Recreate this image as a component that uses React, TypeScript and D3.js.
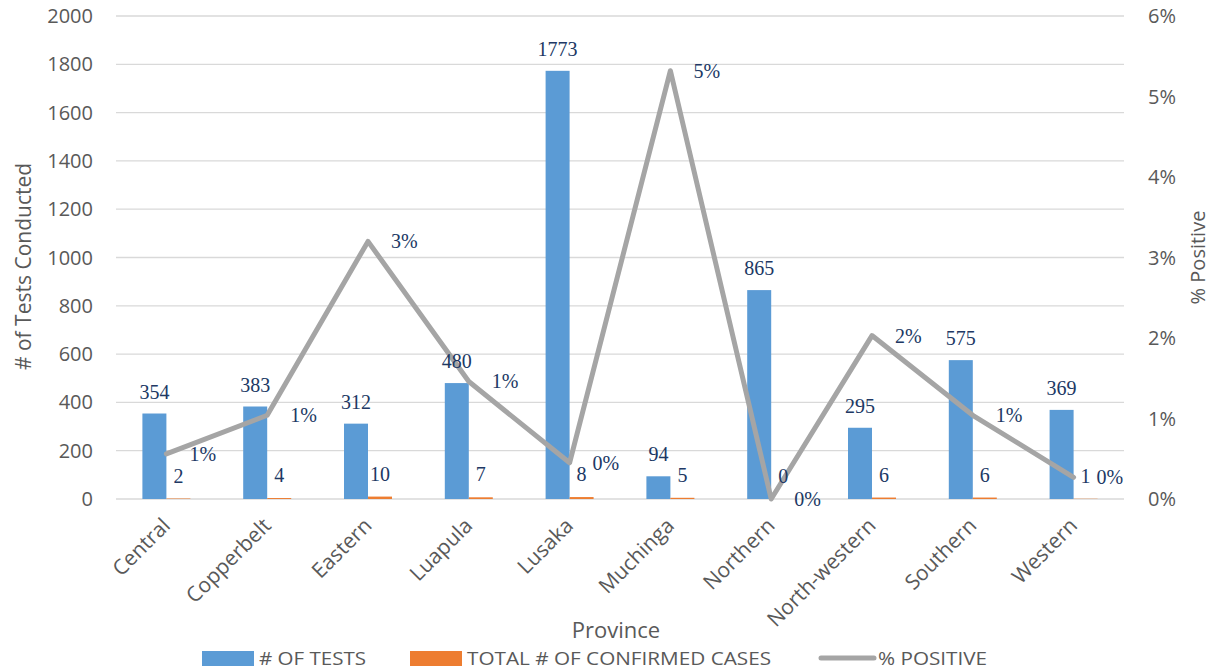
import * as d3 from "d3";

const provinces = [
  "Central",
  "Copperbelt",
  "Eastern",
  "Luapula",
  "Lusaka",
  "Muchinga",
  "Northern",
  "North-western",
  "Southern",
  "Western",
];
const tests = [354, 383, 312, 480, 1773, 94, 865, 295, 575, 369];
const confirmed = [2, 4, 10, 7, 8, 5, 0, 6, 6, 1];
// % positive
const pctPositive = [0.0056, 0.0104, 0.032, 0.0146, 0.0045, 0.0532, 0, 0.0203, 0.0104, 0.0027];
const leftTicks = [0, 200, 400, 600, 800, 1000, 1200, 1400, 1600, 1800, 2000];
const rightTicks = [0, 0.01, 0.02, 0.03, 0.04, 0.05, 0.06];

const colors = { tests: "#5B9BD5", cases: "#ED7D31", pct: "#A5A5A5" };
const sans = "'Open Sans', 'Noto Sans', sans-serif";
const serif = "'Liberation Serif', 'DejaVu Serif', serif";

export default function App() {
  const width = 1212;
  const height = 672;
  const margin = { top: 16, right: 88, bottom: 173, left: 116 };
  const innerWidth = width - margin.left - margin.right;
  const innerHeight = height - margin.top - margin.bottom;

  const x = d3.scaleBand().domain(provinces).range([0, innerWidth]);
  const yLeft = d3.scaleLinear().domain([0, 2000]).range([innerHeight, 0]);
  const yRight = d3.scaleLinear().domain([0, 0.06]).range([innerHeight, 0]);
  const barW = 24;
  const cx = (p: string) => (x(p) ?? 0) + x.bandwidth() / 2;

  const line = d3
    .line<number>()
    .x((_, i) => cx(provinces[i]))
    .y((d) => yRight(d));

  const fmtPct = d3.format(".0%");
  const labelColor = "#203864";

  const legend = [
    { key: "tests", label: "# OF TESTS", x: 202, len: 107 },
    { key: "cases", label: "TOTAL # OF CONFIRMED CASES", x: 410, len: 304 },
    { key: "pct", label: "% POSITIVE", x: 821, len: 109 },
  ];

  return (
    <svg
      width={width}
      height={height}
      style={{ position: "absolute", left: 0, top: 0, background: "#fff" }}
    >
      <g transform={`translate(${margin.left},${margin.top})`}>
        {leftTicks.map((t) => (
          <g key={`l-${t}`} transform={`translate(0,${yLeft(t)})`}>
            <line x1={0} x2={innerWidth} stroke="#D9D9D9" strokeWidth={1.3} />
            <text x={-23} y={7} textAnchor="end" fontFamily={sans} fontSize={20} fill="#595959">
              {t}
            </text>
          </g>
        ))}
        {rightTicks.map((t) => (
          <text
            key={`r-${t}`}
            x={innerWidth + 24}
            y={yRight(t) + 7}
            textAnchor="start"
            fontFamily={sans}
            fontSize={20}
            fill="#595959"
          >
            {fmtPct(t)}
          </text>
        ))}

        {provinces.map((p, i) => (
          <g key={p}>
            <rect
              x={cx(p) - barW}
              y={yLeft(tests[i])}
              width={barW}
              height={innerHeight - yLeft(tests[i])}
              fill={colors.tests}
            />
            <rect
              x={cx(p)}
              y={yLeft(confirmed[i])}
              width={barW}
              height={innerHeight - yLeft(confirmed[i])}
              fill={colors.cases}
            />
          </g>
        ))}

        <path
          d={line(pctPositive) ?? ""}
          fill="none"
          stroke={colors.pct}
          strokeWidth={5}
          strokeLinejoin="round"
          strokeLinecap="round"
        />

        {provinces.map((p, i) => (
          <g key={`lab-${p}`} fontFamily={serif} fontSize={20} fill={labelColor}>
            <text x={cx(p) - barW / 2} y={yLeft(tests[i]) - 15} textAnchor="middle">
              {tests[i]}
            </text>
            <text x={cx(p) + barW / 2} y={yLeft(confirmed[i]) - 16} textAnchor="middle">
              {confirmed[i]}
            </text>
            <text x={cx(p) + 23} y={yRight(pctPositive[i]) + 7} textAnchor="start">
              {fmtPct(pctPositive[i])}
            </text>
          </g>
        ))}

        {provinces.map((p) => (
          <text
            key={`x-${p}`}
            transform={`translate(${cx(p) + 5},${innerHeight + 28}) rotate(-45)`}
            textAnchor="end"
            fontFamily={sans}
            fontSize={21}
            fill="#595959"
          >
            {p}
          </text>
        ))}

        <text
          transform={`translate(${-85},${innerHeight / 2 + 9}) rotate(-90)`}
          textAnchor="middle"
          fontFamily={sans}
          fontSize={21}
          fill="#595959"
        >
          # of Tests Conducted
        </text>
        <text
          transform={`translate(${innerWidth + 81},${innerHeight / 2}) rotate(-90)`}
          textAnchor="middle"
          fontFamily={sans}
          fontSize={20}
          fill="#595959"
        >
          % Positive
        </text>
        <text
          x={innerWidth / 2 - 4}
          y={innerHeight + 139}
          textAnchor="middle"
          fontFamily={sans}
          fontSize={22}
          fill="#595959"
        >
          Province
        </text>
      </g>

      <g fontFamily={sans} fontSize={19} fill="#595959">
        {legend.map((l) => (
          <g key={l.key}>
            {l.key === "pct" ? (
              <line
                x1={l.x}
                x2={l.x + 53}
                y1={658}
                y2={658}
                stroke={colors.pct}
                strokeWidth={5}
                strokeLinecap="round"
              />
            ) : (
              <rect
                x={l.x}
                y={651}
                width={52}
                height={15}
                fill={l.key === "tests" ? colors.tests : colors.cases}
              />
            )}
            <text x={l.x + 57} y={665} textLength={l.len} lengthAdjust="spacingAndGlyphs">
              {l.label}
            </text>
          </g>
        ))}
      </g>
    </svg>
  );
}
